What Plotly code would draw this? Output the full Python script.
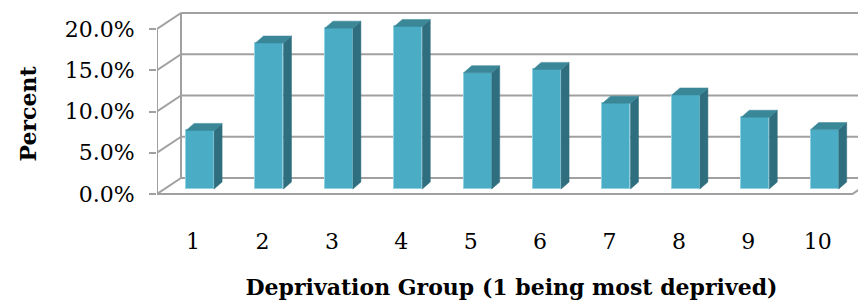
import plotly.graph_objects as go

# ---- data ----
groups = [1, 2, 3, 4, 5, 6, 7, 8, 9, 10]
group_labels = ["1", "2", "3", "4", "5", "6", "7", "8", "9", "10"]
percent = [7.1, 17.7, 19.5, 19.7, 14.1, 14.5, 10.4, 11.4, 8.7, 7.2]
ytick_vals = [0, 5, 10, 15, 20]
ytick_text = ["0.0%", "5.0%", "10.0%", "15.0%", "20.0%"]

# ---- oblique "3-D" geometry (data units) ----
PX_X = 69.4          # px per category
PX_Y = 8.25          # px per percent
X0 = 0.48            # left edge of the floor / front axis
X1 = 10.5            # right edge of the floor
DX, DY = 24 / PX_X, 16 / PX_Y          # wall depth offset
BX0, BY0 = 7 / PX_X, 5 / PX_Y          # bar front face offset
BDX, BDY = 8 / PX_X, 7 / PX_Y          # bar depth
BW = 28 / PX_X                         # bar width

GRID = "#a0a0a0"
FRONT = "#4BACC6"
SIDE = "#2F6E7E"
TOP = "#3A8798"

fig = go.Figure()

def line(xs, ys, width=2, clip=True):
    fig.add_trace(go.Scatter(x=xs, y=ys, mode="lines", cliponaxis=clip,
                             line=dict(color=GRID, width=width),
                             hoverinfo="skip", showlegend=False))

# back wall gridlines + left wall diagonals
gx, gy, dxs, dys = [], [], [], []
for v in ytick_vals:
    gx += [X0 + DX, X1 + DX + 1, None]
    gy += [v + DY, v + DY, None]
    dxs += [X0, X0 + DX, None]
    dys += [v, v + DY, None]
line(gx, gy)
line(dxs, dys, clip=False)
# back-left vertical edge
line([X0 + DX, X0 + DX], [DY, 20 + DY], clip=False)
# front axis line
line([X0, X0], [0, 20], clip=False)
# floor front edge and right diagonal
line([X0, X1, X1 + DX], [0, 0, DY], clip=False)

# bars (on an overlaid axis pair so they sit above the walls)
xs_front = [g + BX0 for g in groups]
fig.add_trace(go.Bar(x=xs_front, y=percent, base=BY0, width=BW,
                     xaxis="x2", yaxis="y2",
                     marker=dict(color=FRONT, line=dict(color="#8fd0e2", width=1)),
                     showlegend=False, hoverinfo="skip"))

sx, sy, tx, ty = [], [], [], []
for g, v in zip(groups, percent):
    L = g + BX0 - BW / 2
    R = g + BX0 + BW / 2
    b = BY0
    t = BY0 + v
    sx += [R, R + BDX, R + BDX, R, R, None]
    sy += [b, b + BDY, t + BDY, t, b, None]
    tx += [L, L + BDX, R + BDX, R, L, None]
    ty += [t, t + BDY, t + BDY, t, t, None]
fig.add_trace(go.Scatter(x=sx, y=sy, mode="lines", fill="toself", fillcolor=SIDE,
                         xaxis="x2", yaxis="y2",
                         line=dict(color=SIDE, width=0.5), hoverinfo="skip",
                         showlegend=False))
fig.add_trace(go.Scatter(x=tx, y=ty, mode="lines", fill="toself", fillcolor=TOP,
                         xaxis="x2", yaxis="y2",
                         line=dict(color=TOP, width=0.5), hoverinfo="skip",
                         showlegend=False))

FONT = "DejaVu Serif"
FS = 22
OFF = 8                      # page body margin
W, H = 866 - OFF, 306 - OFF
plot_left = 157 - OFF
plot_top = 0
plot_bottom = 220 - OFF
zero_y = 194 - OFF
xr = [X0, X0 + (W - plot_left) / PX_X]
yr = [-(plot_bottom - zero_y) / PX_Y, (zero_y - plot_top) / PX_Y]
fig.update_layout(
    width=W, height=H,
    margin=dict(l=plot_left, r=0, t=plot_top, b=H - plot_bottom, autoexpand=False),
    paper_bgcolor="white", plot_bgcolor="white",
    bargap=0,
    font=dict(family=FONT, size=FS, color="black"),
    xaxis=dict(range=xr, tickvals=groups, automargin=False,
               ticktext=group_labels, showgrid=False, zeroline=False,
               showline=False, ticks="", ticklabelstandoff=6,
               tickfont=dict(family=FONT, size=FS),
               title=dict(text="<b>Deprivation Group (1 being most deprived)</b>",
                          font=dict(family=FONT, size=FS), standoff=26)),
    yaxis=dict(range=yr, automargin=False,
               tickvals=ytick_vals, ticktext=ytick_text,
               showgrid=False, zeroline=False, showline=False,
               ticks="outside", ticklen=7, tickwidth=2, tickcolor=GRID,
               ticklabelstandoff=10,
               tickfont=dict(family=FONT, size=FS),
               title=dict(text="<b>Percent</b>", font=dict(family=FONT, size=FS),
                          standoff=22)),
    xaxis2=dict(range=xr, overlaying="x", visible=False),
    yaxis2=dict(range=yr, overlaying="y", visible=False),
)

fig.write_html("out.html")
